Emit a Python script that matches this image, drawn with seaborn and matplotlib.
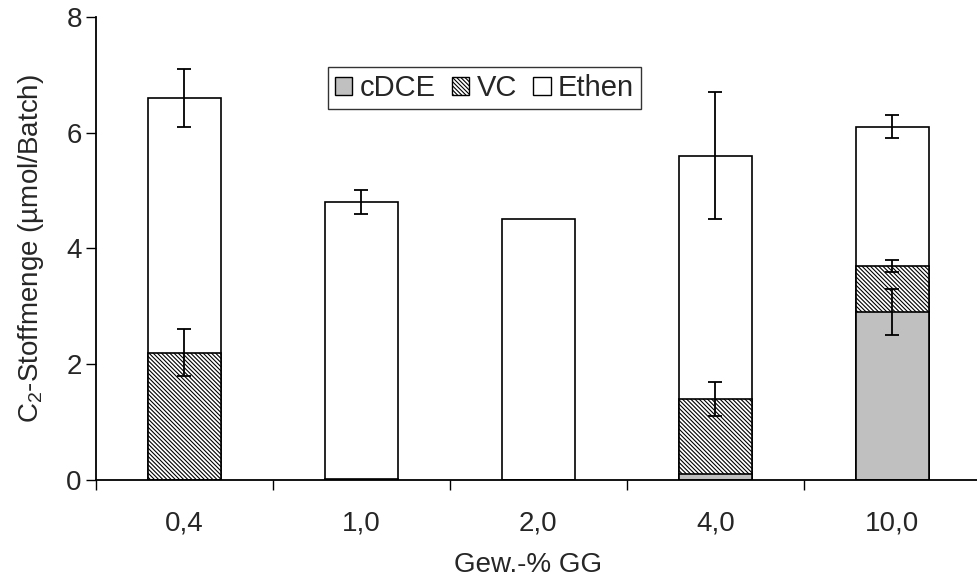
import numpy as np
import pandas as pd
import matplotlib
matplotlib.use('Agg')
import matplotlib.pyplot as plt
import seaborn as sns
from matplotlib.patches import Patch

# data
categories = ['0,4', '1,0', '2,0', '4,0', '10,0']
cdce = [0.0, 0.0, 0.0, 0.1, 2.9]
vc = [2.2, 0.01, 0.0, 1.3, 0.8]
ethen = [4.4, 4.79, 4.5, 4.2, 2.4]
err_cdce = [0.0, 0.0, 0.0, 0.0, 0.4]
err_vc = [0.4, 0.0, 0.0, 0.3, 0.1]
err_total = [0.5, 0.2, 0.0, 1.1, 0.2]

sns.set_theme(style='white')
plt.rcParams['font.family'] = ['Liberation Sans', 'DejaVu Sans']
plt.rcParams['mathtext.fontset'] = 'custom'
plt.rcParams['mathtext.rm'] = 'Liberation Sans'
plt.rcParams['mathtext.it'] = 'Liberation Sans'
plt.rcParams['hatch.linewidth'] = 0.8
plt.rcParams['hatch.color'] = '#1a1a1a'

df = pd.DataFrame({'cat': categories, 'cDCE': cdce, 'VC': vc, 'Ethen': ethen})
df['top_cdce'] = df['cDCE']
df['top_vc'] = df['cDCE'] + df['VC']
df['top_total'] = df['top_vc'] + df['Ethen']

fig = plt.figure(figsize=(9.77, 5.79), dpi=100)
ax = fig.add_axes([0.098, 0.171, 0.906, 0.8])

w = 0.41
hatch = '\\' * 8
sns.barplot(data=df, x='cat', y='top_total', order=categories, color='white',
            edgecolor='black', linewidth=1.2, width=w, saturation=1, ax=ax)
sns.barplot(data=df, x='cat', y='top_vc', order=categories, color='white',
            edgecolor='black', linewidth=1.2, width=w, saturation=1,
            hatch=hatch, ax=ax)
sns.barplot(data=df, x='cat', y='top_cdce', order=categories, color='#c0c0c0',
            edgecolor='black', linewidth=1.2, width=w, saturation=1, ax=ax)

xpos = np.arange(len(categories))
for tops, errs in [(df['top_total'], err_total), (df['top_vc'], err_vc),
                   (df['top_cdce'], err_cdce)]:
    errs = np.array(errs)
    m = errs > 0
    ax.errorbar(xpos[m], np.array(tops)[m], yerr=errs[m], fmt='none',
                ecolor='black', elinewidth=1.3, capsize=5.3, capthick=1.3)

ax.set_xlim(-0.5, 4.5)
ax.set_ylim(0, 8)
ax.set_yticks([0, 2, 4, 6, 8])
ax.set_xticks(xpos)
ax.set_xticklabels(categories)
ax.set_xticks(np.arange(-0.5, 5.0, 1.0), minor=True)
ax.tick_params(axis='x', which='major', length=0, pad=22, labelsize=20)
ax.tick_params(axis='x', which='minor', length=7, width=1, direction='out',
               color='black', bottom=True)
ax.tick_params(axis='y', which='major', length=7, width=1, direction='out',
               color='black', left=True, pad=3, labelsize=20)

for s in ['top', 'right']:
    ax.spines[s].set_visible(False)
for s in ['left', 'bottom']:
    ax.spines[s].set_color('black')
    ax.spines[s].set_linewidth(1.3)

ax.set_xlabel('Gew.-% GG', fontsize=20, labelpad=12)
ax.xaxis.set_label_coords(0.488, -0.155, transform=ax.transAxes)
ax.xaxis.label.set_va('top')
ax.set_ylabel('C$_2$-Stoffmenge (µmol/Batch)', fontsize=20, labelpad=15)

handles = [Patch(facecolor='#c0c0c0', edgecolor='black', label='cDCE'),
           Patch(facecolor='white', edgecolor='black', hatch=hatch, label='VC'),
           Patch(facecolor='white', edgecolor='black', label='Ethen')]
leg = ax.legend(handles=handles, loc='upper left', bbox_to_anchor=(0.262, 0.892),
                ncol=3, fontsize=21, frameon=True, fancybox=False,
                handlelength=0.6, handleheight=0.6, handletextpad=0.25,
                columnspacing=0.55, borderpad=0.25, borderaxespad=0)
leg.get_frame().set_edgecolor('black')
leg.get_frame().set_linewidth(1.0)

fig.savefig('out.png', dpi=100)
